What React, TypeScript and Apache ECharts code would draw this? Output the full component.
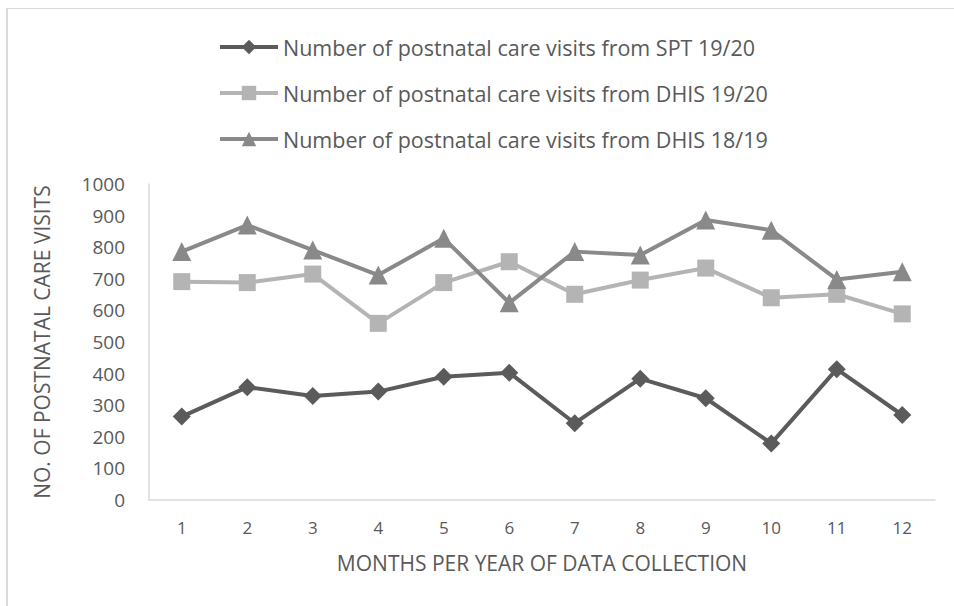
import React, { useEffect, useRef } from "react";
import * as echarts from "echarts";

const months = ["1", "2", "3", "4", "5", "6", "7", "8", "9", "10", "11", "12"];
const sptSeries = [264, 357, 329, 343, 390, 403, 243, 384, 322, 179, 414, 269];
const dhis1920 = [691, 688, 715, 559, 688, 754, 651, 696, 734, 640, 651, 589];
const dhis1819 = [786, 870, 791, 712, 828, 624, 786, 775, 886, 854, 698, 722];
const seriesNames = [
  "Number of postnatal care visits from SPT 19/20",
  "Number of postnatal care visits from DHIS 19/20",
  "Number of postnatal care visits from DHIS 18/19",
];
const yTicks = { min: 0, max: 1000, interval: 100 };

const FONT = "'Open Sans', 'Noto Sans', sans-serif";
const TEXT = "#595959";

export default function App() {
  const ref = useRef<HTMLDivElement>(null);
  useEffect(() => {
    if (!ref.current) return;
    const chart = echarts.init(ref.current, undefined, { renderer: "svg" });
    const mk = (name: string, data: number[], color: string, symbol: string, size: number) => ({
      name,
      type: "line",
      data,
      symbol,
      symbolSize: size,
      showSymbol: true,
      lineStyle: { color, width: 4 },
      itemStyle: { color },
      emphasis: { disabled: true },
    });
    chart.setOption({
      animation: false,
      backgroundColor: "#ffffff",
      textStyle: { fontFamily: FONT },
      graphic: [
        { type: "line", shape: { x1: 7, y1: 8, x2: 7, y2: 606 }, style: { stroke: "#d9d9d9", lineWidth: 2 } },
        { type: "line", shape: { x1: 6, y1: 8.5, x2: 954, y2: 8.5 }, style: { stroke: "#d9d9d9", lineWidth: 1 } },
      ],
      legend: {
        orient: "vertical",
        left: 213,
        top: 30,
        itemWidth: 58,
        itemHeight: 18,
        itemGap: 22,
        lineStyle: { width: 4 },
        textStyle: { color: TEXT, fontSize: 21.5, lineHeight: 24, fontFamily: FONT },
        data: seriesNames,
      },
      grid: { left: 149, right: 19, top: 184, bottom: 106, containLabel: false },
      xAxis: {
        type: "category",
        data: months,
        boundaryGap: true,
        name: "MONTHS PER YEAR OF DATA COLLECTION",
        nameLocation: "middle",
        nameGap: 52,
        nameTextStyle: { color: TEXT, fontSize: 21, fontFamily: FONT },
        axisLine: { show: true, lineStyle: { color: "#d9d9d9", width: 1.5 } },
        axisTick: { show: false },
        axisLabel: { color: TEXT, fontSize: 17, margin: 19, fontFamily: FONT },
        splitLine: { show: false },
      },
      yAxis: {
        type: "value",
        min: yTicks.min,
        max: yTicks.max,
        interval: yTicks.interval,
        name: "NO. OF POSTNATAL CARE VISITS",
        nameLocation: "middle",
        nameGap: 97,
        nameTextStyle: { color: TEXT, fontSize: 21, fontFamily: FONT },
        axisLine: { show: true, lineStyle: { color: "#d9d9d9", width: 1.5 } },
        axisTick: { show: false },
        axisLabel: { color: TEXT, fontSize: 19, margin: 24, fontFamily: FONT, formatter: (v: number) => String(v) },
        splitLine: { show: false },
      },
      series: [
        mk(seriesNames[0], sptSeries, "#5b5b5b", "diamond", 18),
        mk(seriesNames[1], dhis1920, "#b4b4b4", "rect", 17),
        mk(seriesNames[2], dhis1819, "#898989", "triangle", 19),
      ],
    });
    return () => chart.dispose();
  }, []);
  return (
    <div
      ref={ref}
      style={{ position: "fixed", left: 0, top: 0, width: 954, height: 606, background: "#fff" }}
    />
  );
}
